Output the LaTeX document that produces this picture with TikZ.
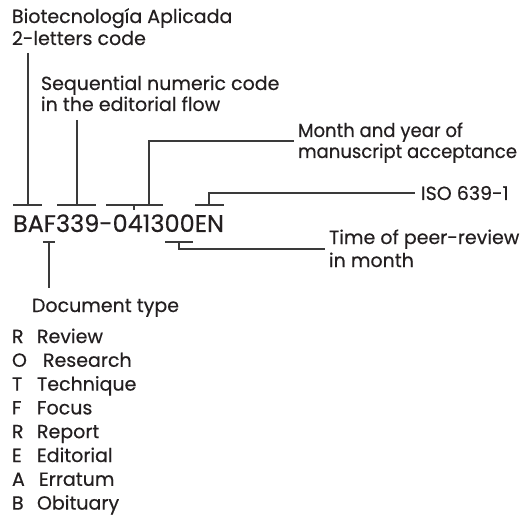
\documentclass[tikz,border=0pt]{standalone}
\usepackage{fontspec}
\setmainfont[FakeBold=0.4]{Poppins}
\newfontfamily\narrowpop[FakeBold=0.4,FakeStretch=0.95]{Poppins}
\definecolor{ink}{HTML}{231F20}
\definecolor{wire}{HTML}{3A3A3A}
\begin{document}
\begin{tikzpicture}[x=1pt,y=-1pt,
  lbl/.style={anchor=base west, inner sep=0pt, outer sep=0pt, text=ink, align=left, font=\fontsize{19}{22}\selectfont},
  codetext/.style={anchor=base west, inner sep=0pt, outer sep=0pt, text=ink, font=\fontsize{24}{28}\selectfont},
  conn/.style={draw=wire, line width=1.1pt}]
\useasboundingbox (0,0) rectangle (526,518);

% texts (multi-line nodes are anchored at the baseline of their last line)
\node[lbl] (bio) at (12,45) {Biotecnología Aplicada\\2-letters code};
\node[lbl, font=\fontsize{19}{21}\selectfont] (seq) at (41,111) {Sequential numeric code\\in the editorial flow};
\node[lbl, font=\narrowpop\fontsize{19}{21}\selectfont] (month) at (298,158) {Month and year of\\manuscript acceptance};
\node[lbl] (iso) at (421,200) {ISO 639-1};
\node[codetext] (code) at (13,232) {BAF339-041300EN};
\node[lbl, font=\fontsize{19}{23}\selectfont] (time) at (329,267) {Time of peer-review\\in month};
\node[lbl] (doctype) at (32,312) {Document type};

% list
\foreach \k/\l/\w/\wx in {0/R/Review/37, 1/O/Research/43, 2/T/Technique/37, 3/F/Focus/37,
                          4/R/Report/37, 5/E/Editorial/37, 6/A/Erratum/39, 7/B/Obituary/37}{
  \node[lbl] (let\k) at (12,343+23.8*\k) {\l};
  \node[lbl] (typ\k) at (\wx,343+23.8*\k) {\w};
}

% connector coordinates
\coordinate (c1t) at (28,53);   \coordinate (c1b) at (28,205);
\coordinate (b1l) at (13,205);  \coordinate (b1r) at (42,205);
\coordinate (c2t) at (77,120);  \coordinate (c2b) at (77,205);
\coordinate (b2l) at (57,205);  \coordinate (b2r) at (96,205);
\coordinate (b3l) at (106,205); \coordinate (b3r) at (163,205);
\coordinate (c3b) at (149,205); \coordinate (c3k) at (149,141); \coordinate (c3e) at (294,141);
\coordinate (t3a) at (134,205); \coordinate (t3b) at (134,210);
\coordinate (b4l) at (195,205); \coordinate (b4r) at (224,205);
\coordinate (c4b) at (209,205); \coordinate (c4k) at (209,193); \coordinate (c4e) at (415,193);
\coordinate (b5l) at (43,242);  \coordinate (b5r) at (55,242);
\coordinate (c5t) at (49,242);  \coordinate (c5b) at (49,288);
\coordinate (b6l) at (165,242); \coordinate (b6r) at (193,242);
\coordinate (c6t) at (179,242); \coordinate (c6k) at (179,249); \coordinate (c6e) at (325,249);

% connectors
\draw[conn] (c1t) -- (c1b);
\draw[conn] (b1l) -- (b1r);
\draw[conn] (c2t) -- (c2b);
\draw[conn] (b2l) -- (b2r);
\draw[conn] (b3l) -- (b3r);
\draw[conn] (c3b) -- (c3k) -- (c3e);
\draw[conn] (t3a) -- (t3b);
\draw[conn] (b4l) -- (b4r);
\draw[conn] (c4b) -- (c4k) -- (c4e);
\draw[conn] (b5l) -- (b5r);
\draw[conn] (c5t) -- (c5b);
\draw[conn] (b6l) -- (b6r);
\draw[conn] (c6t) -- (c6k) -- (c6e);
\end{tikzpicture}
\end{document}
